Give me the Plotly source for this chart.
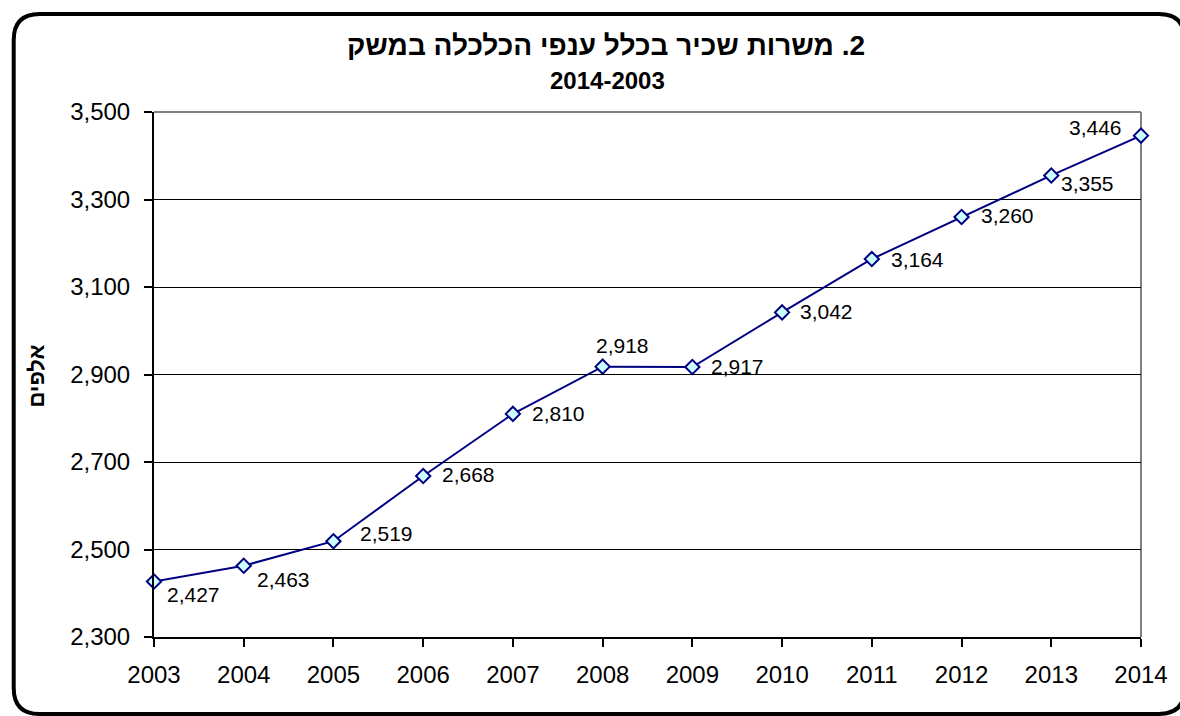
import plotly.graph_objects as go

# ---- data ----
years = [2003, 2004, 2005, 2006, 2007, 2008, 2009, 2010, 2011, 2012, 2013, 2014]
jobs = [2427, 2463, 2519, 2668, 2810, 2918, 2917, 3042, 3164, 3260, 3355, 3446]
y_ticks = [2300, 2500, 2700, 2900, 3100, 3300, 3500]

title_text = "\u200F2. משרות שכיר בכלל ענפי הכלכלה במשק"
subtitle_text = "2014-2003"
y_title = "אלפים"

# ---- layout geometry (pixels) ----
W, H = 1180, 716
L, R, T, B = 154, 34, 112, 79
PW, PH = W - L - R, H - T - B

def px(xp):
    return (xp - L) / PW

def py(yp):
    return (H - B - yp) / PH

FONT = "Liberation Sans, Arial, sans-serif"
NAVY = "#000080"

# label placement styles per point: (xanchor, xshift, yshift)
label_style = [
    ("left", 11, -13), ("left", 11, -14), ("left", 25, 8), ("left", 17, 2),
    ("left", 17, 0), ("center", 20, 21), ("left", 17, 1), ("left", 16, 1),
    ("left", 17, 0), ("left", 17, 2), ("left", 8, -8), ("right", -17, 8),
]

fig = go.Figure()
fig.add_trace(go.Scatter(
    x=years, y=jobs, mode="lines+markers",
    line=dict(color=NAVY, width=2),
    marker=dict(symbol="diamond", size=11, color="#CCFFFF",
                line=dict(color=NAVY, width=2)),
    cliponaxis=False, hoverinfo="x+y",
))

annotations = []
for yr, v, (xa, xs, ys) in zip(years, jobs, label_style):
    annotations.append(dict(
        x=yr, y=v, xref="x", yref="y", text=f"{v:,}", showarrow=False,
        xanchor=xa, yanchor="middle", xshift=xs, yshift=ys,
        font=dict(family=FONT, size=21, color="black"),
    ))

# titles
annotations.append(dict(x=px(608), y=py(45), xref="paper", yref="paper",
                        text="<b>" + title_text + "</b>", showarrow=False,
                        xanchor="center", yanchor="middle",
                        font=dict(family=FONT, size=28, color="black")))
annotations.append(dict(x=px(610), y=py(80), xref="paper", yref="paper",
                        text="<b>" + subtitle_text + "</b>", showarrow=False,
                        xanchor="center", yanchor="middle",
                        font=dict(family=FONT, size=24, color="black")))
annotations.append(dict(x=px(35), y=py(376), xref="paper", yref="paper",
                        text="<b>" + y_title + "</b>", showarrow=False,
                        textangle=-90, xanchor="center", yanchor="middle",
                        font=dict(family=FONT, size=22, color="black")))

# rounded outer frame
x0, x1, y0, y1, r = 13, 1190, 14, 714, 26
def P(xp, yp):
    return f"{px(xp):.5f},{py(yp):.5f}"
frame_path = (
    f"M {P(x0 + r, y0)} L {P(x1 - r, y0)} Q {P(x1, y0)} {P(x1, y0 + r)} "
    f"L {P(x1, y1 - r)} Q {P(x1, y1)} {P(x1 - r, y1)} "
    f"L {P(x0 + r, y1)} Q {P(x0, y1)} {P(x0, y1 - r)} "
    f"L {P(x0, y0 + r)} Q {P(x0, y0)} {P(x0 + r, y0)} Z"
)

shapes = [
    dict(type="path", xref="paper", yref="paper", path=frame_path,
         line=dict(color="black", width=4), layer="below"),
    # gray plot-area border (top & right)
    dict(type="line", xref="paper", yref="paper", x0=0, x1=1, y0=1, y1=1,
         line=dict(color="#808080", width=2), layer="above"),
    dict(type="line", xref="paper", yref="paper", x0=1, x1=1, y0=0, y1=1,
         line=dict(color="#808080", width=2), layer="below"),
]

fig.update_layout(
    width=W, height=H,
    margin=dict(l=L, r=R, t=T, b=B, pad=0),
    paper_bgcolor="white", plot_bgcolor="white",
    showlegend=False,
    annotations=annotations, shapes=shapes,
    font=dict(family=FONT, color="black"),
    xaxis=dict(
        range=[years[0], years[-1]], tickmode="array", tickvals=years,
        ticktext=[str(y) for y in years],
        showgrid=False, zeroline=False,
        showline=True, linecolor="black", linewidth=2,
        ticks="outside", ticklen=8, tickwidth=2, tickcolor="black",
        tickfont=dict(family=FONT, size=24, color="black"),
        ticklabelstandoff=7,
    ),
    yaxis=dict(
        range=[y_ticks[0], y_ticks[-1]], tickmode="array", tickvals=y_ticks,
        tickformat=",",
        showgrid=True, gridcolor="black", gridwidth=1, zeroline=False,
        showline=True, linecolor="black", linewidth=2,
        ticks="outside", ticklen=8, tickwidth=2, tickcolor="black",
        tickfont=dict(family=FONT, size=24, color="black"),
        ticklabelstandoff=9,
    ),
)

fig.write_html("out.html",
               config={"displayModeBar": False},
               post_script="document.body.style.margin='0';"
                           "document.body.style.overflow='hidden';")
